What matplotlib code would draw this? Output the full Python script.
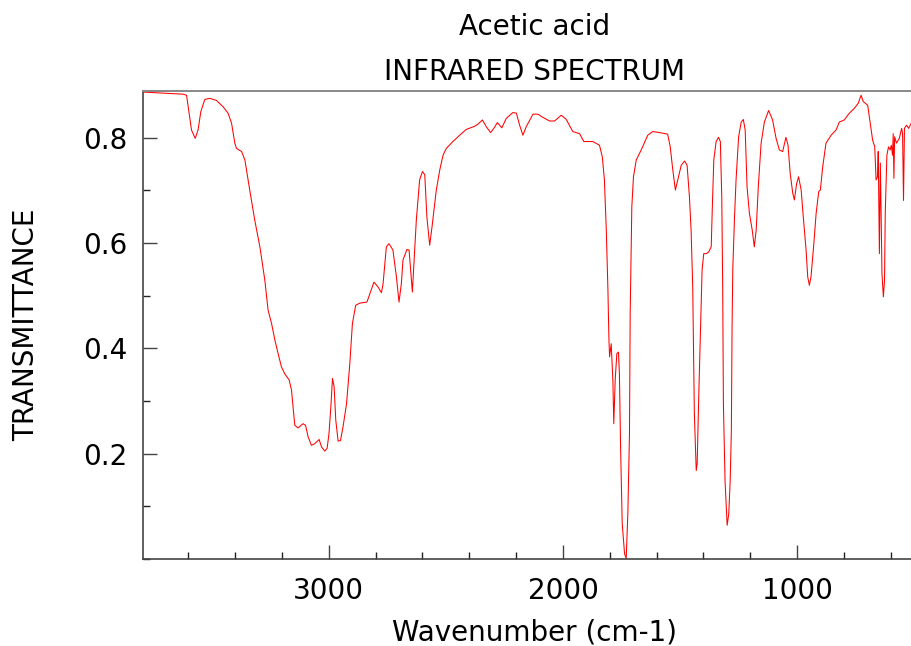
import matplotlib
matplotlib.use("Agg")
import matplotlib.pyplot as plt
from matplotlib.ticker import MultipleLocator, FixedLocator
import numpy as np

# Data
wavenumber = [
    3793, 3623, 3607, 3586, 3570, 3558, 3546, 3529, 3508, 3479, 3451, 3430, 3415, 3401, 3394,
    3372, 3358, 3337, 3316, 3294, 3273, 3259, 3244, 3230, 3216, 3202, 3188, 3169, 3159, 3145,
    3131, 3110, 3099, 3088, 3074, 3060, 3041, 3031, 3017, 3007, 2999, 2991, 2984, 2977, 2970,
    2960, 2950, 2939, 2924, 2910, 2899, 2885, 2868, 2837, 2822, 2807, 2790, 2775, 2768, 2754,
    2743, 2726, 2711, 2700, 2690, 2683, 2666, 2657, 2647, 2643, 2626, 2612, 2600, 2590, 2581,
    2569, 2559, 2541, 2526, 2512, 2498, 2470, 2441, 2413, 2377, 2363, 2344, 2327, 2309, 2295,
    2280, 2261, 2242, 2214, 2199, 2185, 2171, 2157, 2128, 2107, 2086, 2057, 2036, 2007, 1986,
    1958, 1929, 1911, 1872, 1844, 1832, 1823, 1815, 1808, 1804, 1801, 1794, 1787, 1783, 1777,
    1770, 1763, 1759, 1754, 1747, 1737, 1730, 1723, 1716, 1713, 1706, 1699, 1687, 1666, 1638,
    1617, 1588, 1553, 1542, 1531, 1520, 1510, 1495, 1481, 1470, 1460, 1453, 1446, 1439, 1431,
    1427, 1420, 1413, 1406, 1399, 1389, 1378, 1367, 1363, 1356, 1346, 1336, 1328, 1322, 1318,
    1315, 1308, 1299, 1292, 1286, 1281, 1278, 1275, 1268, 1261, 1250, 1239, 1230, 1222, 1214,
    1204, 1192, 1183, 1175, 1166, 1154, 1140, 1122, 1105, 1090, 1076, 1062, 1048, 1039, 1030,
    1019, 1012, 1002, 994, 983, 974, 962, 955, 948, 941, 930, 919, 908, 901, 891,
    877, 855, 834, 820, 799, 777, 756, 739, 727, 718, 699, 688, 678, 669, 663,
    657, 654, 649, 645, 642, 638, 632, 627, 624, 617, 610, 603, 598, 593, 590,
    587, 584, 576, 564, 554, 550, 546, 542, 533, 524, 513, 500, 480, 460, 450,
]
transmittance = [
    0.887, 0.883, 0.881, 0.815, 0.799, 0.815, 0.850, 0.873, 0.875, 0.871, 0.859, 0.847, 0.828, 0.790, 0.780,
    0.774, 0.758, 0.700, 0.644, 0.593, 0.530, 0.473, 0.447, 0.416, 0.390, 0.365, 0.352, 0.340, 0.321, 0.254,
    0.249, 0.257, 0.254, 0.232, 0.216, 0.219, 0.227, 0.213, 0.205, 0.210, 0.238, 0.289, 0.343, 0.327, 0.264,
    0.224, 0.225, 0.251, 0.295, 0.371, 0.447, 0.482, 0.486, 0.488, 0.507, 0.526, 0.517, 0.506, 0.523, 0.593,
    0.599, 0.587, 0.536, 0.488, 0.523, 0.568, 0.588, 0.587, 0.530, 0.507, 0.644, 0.720, 0.736, 0.730, 0.650,
    0.596, 0.631, 0.700, 0.739, 0.767, 0.780, 0.793, 0.805, 0.816, 0.822, 0.826, 0.834, 0.821, 0.810, 0.818,
    0.829, 0.819, 0.837, 0.848, 0.847, 0.824, 0.805, 0.821, 0.845, 0.845, 0.839, 0.832, 0.832, 0.843, 0.835,
    0.812, 0.808, 0.793, 0.793, 0.786, 0.764, 0.720, 0.625, 0.511, 0.422, 0.384, 0.409, 0.340, 0.257, 0.340,
    0.390, 0.393, 0.352, 0.213, 0.067, 0.010, 0.001, 0.086, 0.238, 0.466, 0.669, 0.726, 0.758, 0.777, 0.805,
    0.812, 0.810, 0.807, 0.783, 0.739, 0.701, 0.720, 0.748, 0.756, 0.748, 0.688, 0.625, 0.517, 0.276, 0.168,
    0.181, 0.314, 0.435, 0.549, 0.580, 0.580, 0.583, 0.593, 0.657, 0.758, 0.793, 0.801, 0.793, 0.688, 0.517,
    0.295, 0.149, 0.064, 0.086, 0.149, 0.244, 0.441, 0.549, 0.644, 0.720, 0.802, 0.830, 0.835, 0.815, 0.707,
    0.657, 0.625, 0.593, 0.625, 0.707, 0.790, 0.830, 0.852, 0.834, 0.799, 0.777, 0.774, 0.801, 0.786, 0.733,
    0.695, 0.682, 0.714, 0.726, 0.701, 0.650, 0.587, 0.536, 0.520, 0.536, 0.593, 0.657, 0.698, 0.701, 0.745,
    0.790, 0.805, 0.815, 0.830, 0.834, 0.847, 0.856, 0.866, 0.881, 0.869, 0.862, 0.828, 0.796, 0.783, 0.720,
    0.726, 0.774, 0.580, 0.752, 0.669, 0.542, 0.498, 0.530, 0.657, 0.767, 0.783, 0.777, 0.786, 0.767, 0.808,
    0.723, 0.802, 0.790, 0.799, 0.818, 0.808, 0.681, 0.818, 0.824, 0.818, 0.828, 0.830, 0.826, 0.832, 0.830,
]

title_lines = ["Acetic acid", "INFRARED SPECTRUM"]
x_label = "Wavenumber (cm-1)"
y_label = "TRANSMITTANCE"
x_major = [3000, 2000, 1000]
y_major = [0.2, 0.4, 0.6, 0.8]

W, H = 912, 646
fig = plt.figure(figsize=(W / 100, H / 100), dpi=100)
ax_left, ax_right, ax_top, ax_bottom = 143, 926, 91, 559
ax = fig.add_axes([ax_left / W, 1 - ax_bottom / H, (ax_right - ax_left) / W, (ax_bottom - ax_top) / H])

ax.plot(wavenumber, transmittance, color="red", lw=0.75)
ax.set_xlim(3793, 450)
ax.set_ylim(0.0, 0.889)

ax.xaxis.set_major_locator(FixedLocator(x_major))
ax.xaxis.set_minor_locator(MultipleLocator(200))
ax.yaxis.set_major_locator(FixedLocator(y_major))
ax.yaxis.set_minor_locator(MultipleLocator(0.1))
ax.set_xticklabels([str(v) for v in x_major])
ax.set_yticklabels([f"{v:.1f}" for v in y_major])

fs = 20
ax.tick_params(axis="both", which="major", direction="in", length=10, width=1.0,
               color="#444444", labelsize=fs, top=False, right=False)
ax.tick_params(axis="both", which="minor", direction="in", length=5, width=1.0,
               color="#222222", top=False, right=False)
ax.tick_params(axis="x", which="major", pad=13)
ax.tick_params(axis="y", which="major", pad=11)

ax.spines["right"].set_visible(False)
ax.spines["top"].set_color("#888888")
ax.spines["top"].set_linewidth(1.4)
for s in ("left", "bottom"):
    ax.spines[s].set_color("#444444")
    ax.spines[s].set_linewidth(1.2)

cx = (ax_left + ax_right) / 2 / W
fig.text(cx, 1 - 35 / H, title_lines[0], ha="center", va="baseline", fontsize=fs)
fig.text(cx, 1 - 80 / H, title_lines[1], ha="center", va="baseline", fontsize=fs)
fig.text(cx, 1 - 640 / H, x_label, ha="center", va="baseline", fontsize=fs)
fig.text(26 / W, 1 - 325 / H, y_label, ha="center", va="center", rotation=90, fontsize=fs)

fig.savefig("out.png", dpi=100)
